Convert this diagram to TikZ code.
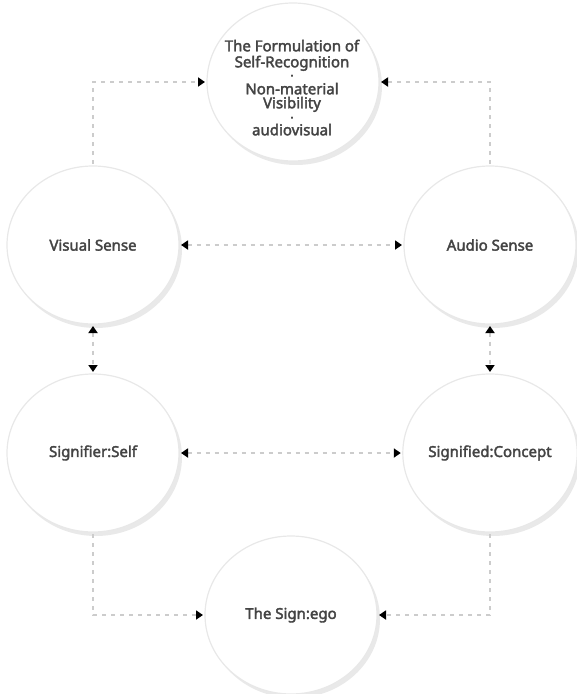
\documentclass[tikz,border=0pt]{standalone}
\usepackage{fontspec}
\setmainfont{Noto Sans}[FakeBold=2.4]
\usetikzlibrary{arrows.meta,shapes.geometric,shadows}
\definecolor{txt}{HTML}{444444}
\definecolor{rim}{HTML}{E8E8E8}
\definecolor{dashc}{HTML}{CCCCCC}
\definecolor{shad}{HTML}{E4E4E4}
\begin{document}
\begin{tikzpicture}[x=1pt,y=-1pt,
  bubble/.style={ellipse, draw=rim, line width=1.2pt, fill=white,
    minimum width=172pt, minimum height=158pt, inner sep=0pt, outer sep=2pt,
    drop shadow={shadow xshift=3pt, shadow yshift=-4pt, fill=shad, opacity=0.8},
    font=\fontsize{15}{16}\selectfont, text=txt},
  lbl/.style={font=\fontsize{15}{16}\selectfont, text=txt, inner sep=0pt, text height=9pt, text depth=2.5pt},
  dotlbl/.style={font=\fontsize{13}{14}\selectfont, text=txt, inner sep=0pt},
  conn/.style={draw=dashc, line width=2.8pt, dash pattern=on 4pt off 5pt},
  tip/.style={-{Triangle[length=7pt,width=9pt,fill=black,color=black]}},
  tips/.style={{Triangle[length=7pt,width=9pt,fill=black,color=black]}-{Triangle[length=7pt,width=9pt,fill=black,color=black]}}
]
\useasboundingbox (0,0) rectangle (577,694);
\node[bubble] (top) at (293,82) {};
\node[lbl] (t1) at (292,48) {The Formulation of};
\node[lbl] (t2) at (292,64) {Self-Recognition};
\node[dotlbl] (d1) at (292,77.5) {·};
\node[lbl] (t3) at (292,91) {Non-material};
\node[lbl] (t4) at (292,105) {Visibility};
\node[dotlbl] (d2) at (292,119.5) {·};
\node[lbl] (t5) at (292,132) {audiovisual};
\node[bubble] (vs) at (93,245) {Visual Sense};
\node[bubble] (as) at (490,245) {Audio Sense};
\node[bubble] (sf) at (93,453) {Signifier:Self};
\node[bubble] (sd) at (490,453) {Signified:Concept};
\node[bubble] (sg) at (291,615) {The Sign:ego};

\draw[conn,tip] (vs.north) |- (top.west);
\draw[conn,tip] (as.north) |- (top.east);
\draw[conn,tips] (vs.east) -- (as.west);
\draw[conn,tips] (vs.south) -- (sf.north);
\draw[conn,tips] (as.south) -- (sd.north);
\draw[conn,tips] (sf.east) -- (sd.west);
\draw[conn,tip] (sf.south) |- (sg.west);
\draw[conn,tip] (sd.south) |- (sg.east);
\end{tikzpicture}
\end{document}
